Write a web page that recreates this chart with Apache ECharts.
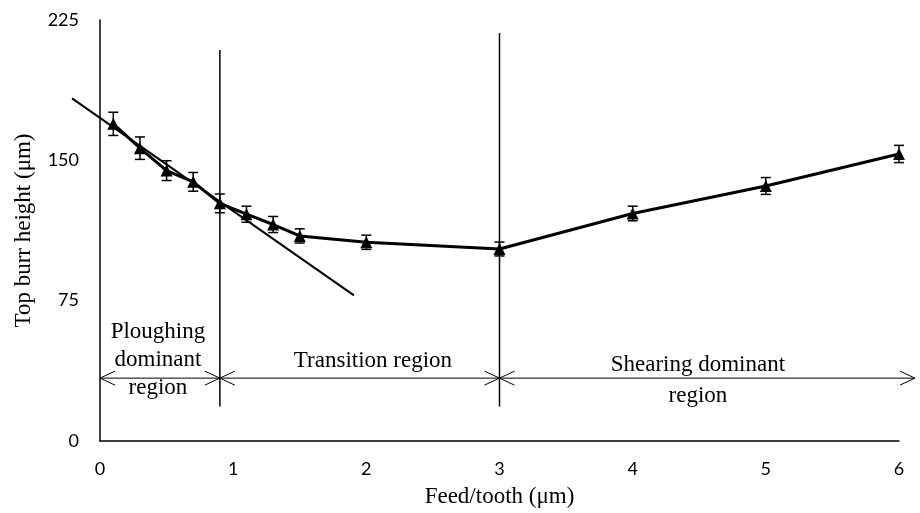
<!DOCTYPE html>
<html>
<head>
<meta charset="utf-8">
<script src="https://cdn.jsdelivr.net/npm/echarts@6/dist/echarts.min.js"></script>
<style>html,body{margin:0;padding:0;background:#fff}#c{width:920px;height:513px}</style>
</head>
<body>
<div id="c"></div>
<script>
// Data
var feed = [0.1, 0.3, 0.5, 0.7, 0.9, 1.1, 1.3, 1.5, 2, 3, 4, 5, 6];
var burr = [169.5, 156.5, 144.5, 138.5, 127, 121.2, 115.7, 109.6, 106.2, 102.6, 121.6, 136.3, 153.4];
var errs = [6.2, 6, 5.3, 5, 5, 4.3, 4.3, 3.8, 3.8, 3.7, 3.9, 4.5, 4.6];
var trendX = [-0.21, 1.907];
var trendY = [183.1, 77.8];
var boundaryX = [0.9, 3];
var boundaryBottom = [18.5, 18.5];
var boundaryTop = [209, 218];
var arrowStart = [0, 0.9, 3];
var arrowEnd = [0.9, 3, 6.12];
var arrowY = 33.6;
var noteText = ['Ploughing', 'dominant', 'region', 'Transition region', 'Shearing dominant', 'region'];
var noteX = [0.435, 0.435, 0.435, 2.05, 4.49, 4.49];
var noteY = [58.4, 43.4, 28.4, 43, 40.4, 24.3];
var xTicks = [0, 1, 2, 3, 4, 5, 6];
var yTicks = [0, 75, 150, 225];

var serif = '"Liberation Serif","Times New Roman",serif';
var sans = 'Lato, "Open Sans", sans-serif';

var chart = echarts.init(document.getElementById('c'), null, {renderer: 'canvas'});

var option = {
  animation: false,
  backgroundColor: '#fff',
  grid: {left: 100, right: 21, top: 20, bottom: 72, containLabel: false},
  xAxis: {
    type: 'value', min: xTicks[0], max: xTicks[xTicks.length - 1], interval: 1,
    name: 'Feed/tooth (\u03bcm)', nameLocation: 'middle', nameGap: 44,
    nameTextStyle: {fontFamily: serif, fontSize: 23, color: '#000'},
    axisLine: {show: true, lineStyle: {color: '#000', width: 1.5}},
    axisTick: {show: false},
    splitLine: {show: false},
    axisLabel: {fontFamily: sans, fontSize: 18, color: '#000', margin: 19}
  },
  yAxis: {
    type: 'value', min: yTicks[0], max: yTicks[yTicks.length - 1], interval: 75,
    name: 'Top burr height (\u03bcm)', nameLocation: 'middle', nameGap: 65, nameRotate: 90,
    nameTextStyle: {fontFamily: serif, fontSize: 23, color: '#000'},
    axisLine: {show: true, lineStyle: {color: '#000', width: 1.5}},
    axisTick: {show: false},
    splitLine: {show: false},
    axisLabel: {fontFamily: sans, fontSize: 18, color: '#000', margin: 21}
  },
  series: [
    {
      type: 'custom', name: 'trend', silent: true, clip: false,
      data: [[trendX[0], trendY[0], trendX[1], trendY[1]]],
      renderItem: function (params, api) {
        var a = api.coord([api.value(0), api.value(1)]);
        var b = api.coord([api.value(2), api.value(3)]);
        return {type: 'line', shape: {x1: a[0], y1: a[1], x2: b[0], y2: b[1]},
                style: {stroke: '#000', lineWidth: 2}};
      }, z: 2
    },
    {
      type: 'custom', name: 'boundaries', silent: true, clip: false,
      data: boundaryX.map(function (x, i) { return [x, boundaryBottom[i], boundaryTop[i]]; }),
      renderItem: function (params, api) {
        var a = api.coord([api.value(0), api.value(1)]);
        var b = api.coord([api.value(0), api.value(2)]);
        return {type: 'line', shape: {x1: a[0], y1: a[1], x2: b[0], y2: b[1]},
                style: {stroke: '#000', lineWidth: 1.5}};
      }, z: 1
    },
    {
      type: 'custom', name: 'arrows', silent: true, clip: false,
      data: arrowStart.map(function (x, i) { return [x, arrowEnd[i], arrowY]; }),
      renderItem: function (params, api) {
        var a = api.coord([api.value(0), api.value(2)]);
        var b = api.coord([api.value(1), api.value(2)]);
        var st = {stroke: '#000', lineWidth: 1, fill: null};
        return {type: 'group', children: [
          {type: 'line', shape: {x1: a[0], y1: a[1], x2: b[0], y2: b[1]}, style: st},
          {type: 'polyline', shape: {points: [[a[0] + 15, a[1] - 7], [a[0], a[1]], [a[0] + 15, a[1] + 7]]}, style: st},
          {type: 'polyline', shape: {points: [[b[0] - 15, b[1] - 7], [b[0], b[1]], [b[0] - 15, b[1] + 7]]}, style: st}
        ]};
      }, z: 1
    },
    {
      type: 'custom', name: 'notes', silent: true, clip: false,
      data: noteX.map(function (x, i) { return [x, noteY[i]]; }),
      renderItem: function (params, api) {
        var p = api.coord([api.value(0), api.value(1)]);
        return {type: 'text', style: {text: noteText[params.dataIndex], x: p[0], y: p[1],
                align: 'center', verticalAlign: 'middle', fill: '#000',
                font: '23px ' + serif}};
      }, z: 3
    },
    {
      type: 'custom', name: 'errors', silent: true, clip: false,
      data: feed.map(function (x, i) { return [x, burr[i] - errs[i], burr[i] + errs[i]]; }),
      renderItem: function (params, api) {
        var lo = api.coord([api.value(0), api.value(1)]);
        var hi = api.coord([api.value(0), api.value(2)]);
        var w = 5;
        var st = {stroke: '#000', lineWidth: 1.5};
        return {type: 'group', children: [
          {type: 'line', shape: {x1: lo[0], y1: lo[1], x2: hi[0], y2: hi[1]}, style: st},
          {type: 'line', shape: {x1: lo[0] - w, y1: lo[1], x2: lo[0] + w, y2: lo[1]}, style: st},
          {type: 'line', shape: {x1: hi[0] - w, y1: hi[1], x2: hi[0] + w, y2: hi[1]}, style: st}
        ]};
      }, z: 4
    },
    {
      type: 'line', name: 'Top burr height',
      data: feed.map(function (x, i) { return [x, burr[i]]; }),
      symbol: 'triangle', symbolSize: 12, showAllSymbol: true,
      itemStyle: {color: '#000'},
      lineStyle: {color: '#000', width: 3}, z: 5
    }
  ]
};
chart.setOption(option);
</script>
</body>
</html>
